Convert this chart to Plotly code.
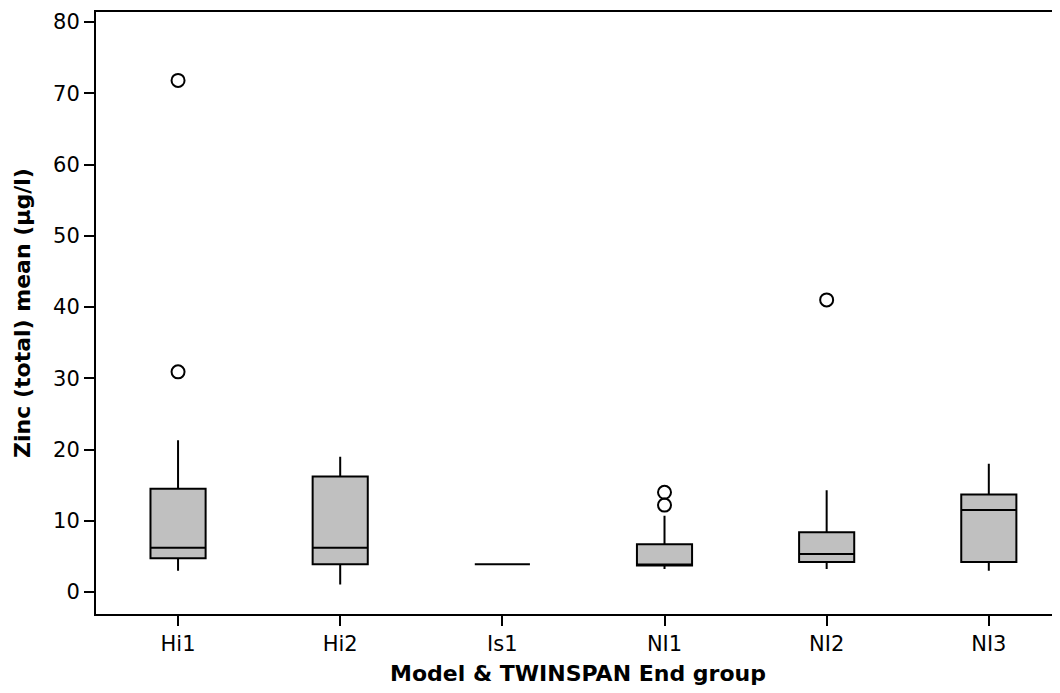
import plotly.graph_objects as go

categories = ["Hi1", "Hi2", "Is1", "NI1", "NI2", "NI3"]
q1 = [4.75, 3.9, 3.9, 3.72, 4.2, 4.2]
median = [6.2, 6.2, 3.9, 3.85, 5.35, 11.5]
q3 = [14.5, 16.2, 3.9, 6.7, 8.4, 13.7]
lower_whisker = [3.0, 1.05, 3.9, 3.25, 3.25, 3.0]
upper_whisker = [21.3, 19.0, 3.9, 10.7, 14.3, 18.0]
outlier_cats = ["Hi1", "Hi1", "NI1", "NI1", "NI2"]
outlier_vals = [71.8, 30.9, 14.0, 12.2, 41.0]

fig = go.Figure()
fig.add_trace(go.Box(
    x=categories, q1=q1, median=median, q3=q3,
    lowerfence=lower_whisker, upperfence=upper_whisker,
    fillcolor="#c0c0c0", line=dict(color="black", width=2),
    width=0.34, whiskerwidth=0, boxpoints=False, showlegend=False,
    hoverinfo="skip",
))
fig.add_trace(go.Scatter(
    x=outlier_cats, y=outlier_vals, mode="markers",
    marker=dict(symbol="circle-open", size=13, color="black", line=dict(width=2)),
    showlegend=False, hoverinfo="skip",
))

font_family = "DejaVu Sans, Verdana, sans-serif"
fig.update_layout(
    width=1060, height=693,
    margin=dict(l=88, r=8, t=2, b=87),
    plot_bgcolor="white", paper_bgcolor="white",
    font=dict(family=font_family, color="black", size=21),
    xaxis=dict(
        type="category", categoryorder="array", categoryarray=categories,
        range=[-0.506, 5.439],
        showline=True, linecolor="black", linewidth=2, mirror=True,
        ticks="outside", ticklen=10, tickwidth=2, tickcolor="black",
        showgrid=False, zeroline=False,
        tickfont=dict(size=21),
        title=dict(text="<b>Model & TWINSPAN End group</b>", font=dict(size=22), standoff=10),
    ),
    yaxis=dict(
        range=[-3.08, 81.4],
        tickvals=[0, 10, 20, 30, 40, 50, 60, 70, 80],
        showline=True, linecolor="black", linewidth=2,
        ticks="outside", ticklen=10, tickwidth=2, tickcolor="black",
        showgrid=False, zeroline=False,
        tickfont=dict(size=21),
        title=dict(text="<b>Zinc (total) mean (µg/l)</b>", font=dict(size=22), standoff=16),
    ),
)

fig.write_html("out.html")
